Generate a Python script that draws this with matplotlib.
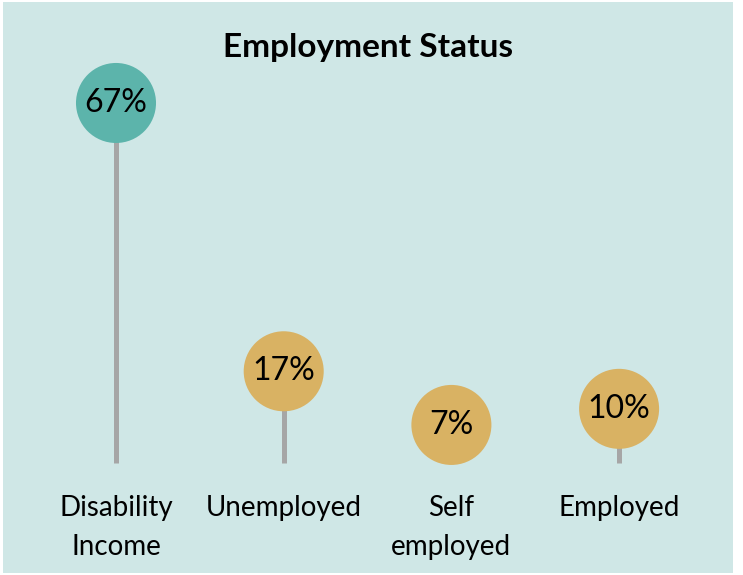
import matplotlib
matplotlib.use("Agg")
import matplotlib.pyplot as plt
from matplotlib.patches import Rectangle

categories = ["Disability\nIncome", "Unemployed", "Self\nemployed", "Employed"]
values = [67, 17, 7, 10]

teal = "#5cb4ab"
gold = "#d9b263"
stem_grey = "#a6a6a6"
panel_bg = "#cfe7e6"

plt.rcParams["font.family"] = ["Lato", "DejaVu Sans"]

W, H = 743, 575
fig = plt.figure(figsize=(W / 100, H / 100), dpi=100)
fig.patch.set_facecolor("white")
fig.patches.append(Rectangle((3 / W, 2 / H), 730 / W, 571 / H,
                             transform=fig.transFigure, facecolor=panel_bg,
                             edgecolor="none", zorder=-1))

ax = fig.add_axes([0, 0, 1, 1])
ax.set_zorder(1)
ax.set_facecolor("none")
x = list(range(len(values)))

# pixel layout: first lollipop at 116px, 167.7px apart; baseline 112.5px from bottom
px_x, px_y = 167.7, 5.366
ax.set_xlim(-116 / px_x, (W - 116) / px_x)
ax.set_ylim(-112.5 / px_y, (H - 112.5) / px_y)
ax.axis("off")

colors = [teal if v == max(values) else gold for v in values]
ax.vlines(x, 0, values, color=stem_grey, linewidth=3.6, zorder=2)
ax.scatter(x, values, s=3320, c=colors, edgecolors="none", zorder=3)

for xi, v in zip(x, values):
    ax.text(xi, v, f"{v}%", ha="center", va="center", fontsize=23,
            color="black", zorder=4)

for xi, lab in zip(x, categories):
    ax.text(xi, -6.1, lab, ha="center", va="top", fontsize=20,
            linespacing=1.62, color="black")

fig.text(368 / W, 1 - 47 / H, "Employment Status", ha="center", va="center",
         fontsize=24, fontweight="bold", color="black", zorder=5)

fig.savefig("out.png", dpi=100)
